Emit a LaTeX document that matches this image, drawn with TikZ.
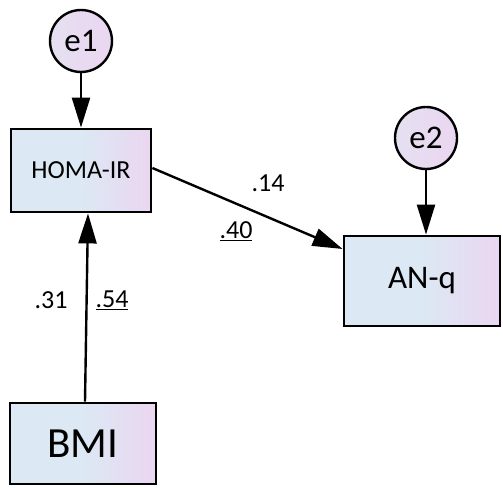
\documentclass[tikz,border=0pt]{standalone}
\usepackage{fontspec}
\setmainfont{Carlito}
\usetikzlibrary{arrows.meta}
\definecolor{boxblue}{HTML}{DCE8F4}
\definecolor{boxpink}{HTML}{EBD6F0}
\definecolor{errlav}{HTML}{E7DEF1}
\tikzset{
  varbox/.style={draw, line width=2.8pt, left color=boxblue, right color=boxpink, middle color=boxblue, inner sep=0pt},
  errcirc/.style={draw, circle, line width=2.4pt, left color=errlav!80!boxblue, right color=boxpink, minimum size=62pt, inner sep=0pt, font=\fontsize{33}{33}\selectfont},
  coef/.style={font=\fontsize{26}{26}\selectfont}
}
\begin{document}
\begin{tikzpicture}[x=1pt, y=-1pt, >={Triangle[length=30pt, width=18pt]}, line width=2.4pt]
  \useasboundingbox (0, 0) rectangle (503, 487);
  \node[varbox, minimum width=140pt, minimum height=83pt, font=\fontsize{26}{26}\selectfont] (homa) at (81, 170.5) {HOMA-IR};
  \node[varbox, minimum width=156pt, minimum height=90pt, font=\fontsize{33}{33}\selectfont] (anq) at (422, 281) {AN-q};
  \node[varbox, minimum width=146pt, minimum height=81pt, font=\fontsize{43}{43}\selectfont] (bmi) at (83, 443.5) {BMI};
  \node[errcirc] (e1) at (81, 41) {e1};
  \node[errcirc] (e2) at (426, 138) {e2};
  % error terms
  \draw[->] (e1) -- (homa.north -| e1);
  \draw[->] (e2) -- (anq.north -| e2);
  % paths
  \draw[->] (bmi.north -| 85, 0) -- (homa.south -| 88, 0);
  \draw[->] (homa.east |- 0, 168) -- (anq.west |- 0, 249);
  \node[coef] (c31) at (51, 300) {.31};
  \node[coef] (c54) at (112, 300) {\underline{.54}};
  \node[coef] (c14) at (268, 183) {.14};
  \node[coef] (c40) at (236, 231) {\underline{.40}};
\end{tikzpicture}
\end{document}
